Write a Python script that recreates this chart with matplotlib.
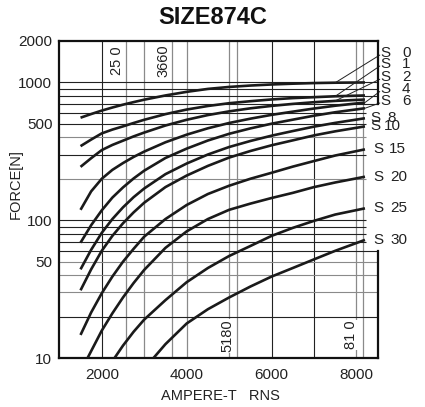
import matplotlib
matplotlib.use('Agg')
import matplotlib.pyplot as plt

plt.rcParams['font.family'] = ['Liberation Sans', 'DejaVu Sans']

# ampere-turns sample points, force [N] for each stroke S (mm)
at_full = [1500, 1750, 2000, 2250, 2500, 2750, 3000, 3500, 4000, 4500, 5000, 5500,
           6000, 6500, 7000, 7500, 8200]
f_s0 = [555, 590, 625, 658, 690, 720, 750, 805, 855, 898, 928, 950, 967, 980, 990, 996, 1000]
f_s1 = [345, 385, 427, 455, 480, 508, 536, 589, 636, 675, 707, 731, 753, 770, 782, 794, 805]
f_s2 = [244, 282, 323, 352, 378, 406, 433, 487, 536, 580, 617, 649, 676, 699, 719, 735, 752]
f_s4 = [119, 162, 200, 232, 260, 288, 315, 368, 418, 465, 508, 546, 582, 614, 647, 678, 715]
f_s6 = [68.7, 92, 118, 146, 173, 201, 229, 283, 331, 379, 424, 464, 502, 537, 574, 608, 650]
f_s8 = [44, 61, 81, 102, 124, 147, 170, 216, 258, 300, 340, 376, 411, 444, 478, 509, 550]
f_s10 = [31, 44, 60, 77, 95, 114, 134, 174, 211, 248, 285, 318, 350, 380, 413, 442, 480]
f_s15 = [14.7, 21.4, 29.5, 39, 50, 62, 76, 102, 129, 155, 178, 200, 221, 245, 269, 295, 327]
at_s20 = [1666, 2000, 2250, 2500, 2750, 3000, 3500, 4000, 4500, 5000, 5500, 6000,
          6500, 7000, 7500, 8200]
f_s20 = [10, 15.8, 21.1, 27.5, 35, 43.6, 63, 83, 102, 119, 132, 145, 158, 174, 188, 207]
at_s25 = [2301, 2500, 2750, 3000, 3500, 4000, 4500, 5000, 5500, 6000, 6500, 7000, 7500, 8200]
f_s25 = [10, 12.3, 15.5, 19, 26.3, 35.5, 45, 55, 65, 77, 88, 99, 110, 122]
at_s30 = [3219, 3500, 4000, 4500, 5000, 5500, 6000, 6500, 7000, 7500, 8200]
f_s30 = [10, 12.6, 17.8, 22.6, 27.5, 33, 39, 45, 52, 60, 72]

strokes = ['0', '1', '2', '4', '6', '8', '10', '15', '20', '25', '30']
curves_x = [at_full] * 8 + [at_s20, at_s25, at_s30]
curves_y = [f_s0, f_s1, f_s2, f_s4, f_s6, f_s8, f_s10, f_s15, f_s20, f_s25, f_s30]

# marked coil values on the grid
grid_x_dark = [2000, 6000, 7000]
grid_x_grey = [2580, 3000, 3660, 4000, 5000, 5180, 8000, 8160]
grid_y_dark = [20, 60, 70, 80, 90, 100, 300, 500, 600, 700, 800, 900, 1000]
grid_y_grey = [30, 40, 50, 200, 400]
marks = ['25 0', '3660', '5180', '81 0']

xmin, xmax = 1000, 8500
ymin, ymax = 10, 2000

fig = plt.figure(figsize=(4.25, 4.07), dpi=100)
ax = fig.add_axes([59.3 / 425, 49 / 407, 318.4 / 425, 317 / 407])
ax.set_yscale('log')
ax.set_xlim(xmin, xmax)
ax.set_ylim(ymin, ymax)

# gridlines
for gx in grid_x_dark:
    ax.axvline(gx, color='#222222', lw=0.8, zorder=1)
for gx in grid_x_grey:
    ax.axvline(gx, color='#8a8a8a', lw=0.9, zorder=1)
for gy in grid_y_dark + grid_y_grey:
    col = '#222222' if gy in grid_y_dark else '#8a8a8a'
    # lines in the open label zone stop short of the right edge
    x_end = xmax if (gy >= 700 or gy <= 60) else 8230
    ax.hlines(gy, xmin, x_end, color=col, lw=0.8, zorder=1)

for xs, ys in zip(curves_x, curves_y):
    ax.plot(xs, ys, color='#1a1a1a', lw=1.9, solid_capstyle='butt',
            solid_joinstyle='round', zorder=3)

# frame: right edge is open between 60 and 700 N
ax.spines['right'].set_visible(False)
for s in ['left', 'bottom', 'top']:
    ax.spines[s].set_linewidth(1.6)
    ax.spines[s].set_color('#111111')
ax.plot([xmax, xmax], [700, ymax], color='#111111', lw=1.6, clip_on=False, zorder=4)
ax.plot([xmax, xmax], [ymin, 60], color='#111111', lw=1.6, clip_on=False, zorder=4)

ax.set_xticks([2000, 4000, 6000, 8000])
ax.set_xticklabels(['2000', '4000', '6000', '8000'])
ax.set_yticks([10, 50, 100, 500, 1000, 2000])
ax.set_yticklabels(['10', '50', '100', '500', '1000', '2000'])
ax.minorticks_off()
ax.tick_params(length=0, labelsize=11, labelcolor='#222222')
ax.tick_params(axis='x', pad=7)
ax.tick_params(axis='y', pad=5)

xt = ax.get_xaxis_transform()
mark_x = [2354, 3453, 4968, 7881]
mark_y = [0.937, 0.937, 0.069, 0.072]
for m, mx, my in zip(marks, mark_x, mark_y):
    ax.text(mx, my, m, rotation=90, ha='center', va='center', fontsize=10.5,
            color='#222222', transform=xt, zorder=5,
            bbox=dict(boxstyle='square,pad=0.05', fc='white', ec='none'))

# stroke labels: S0-S6 stacked outside the frame with leader lines
stack_y = [0.9637, 0.929, 0.8874, 0.8486, 0.8123]
leader_idx = [15, 15, 15, 16, 16]
for i in range(5):
    ax.text(8566, stack_y[i], 'S', ha='left', va='center', fontsize=11,
            color='#222222', transform=xt, clip_on=False)
    ax.text(9270, stack_y[i], strokes[i], ha='right', va='center', fontsize=11,
            color='#222222', transform=xt, clip_on=False)
    ax.annotate('', xy=(curves_x[i][leader_idx[i]], curves_y[i][leader_idx[i]]),
                xytext=(8549, stack_y[i] - 0.008), textcoords=xt,
                arrowprops=dict(arrowstyle='-', lw=0.7, color='#222222',
                                shrinkA=0, shrinkB=0),
                annotation_clip=False)

label_sx = [8330, 8330, 8390, 8390, 8390, 8390]
label_nx = [8920, 9050, 9170, 9200, 9200, 9200]
for j, i in enumerate(range(5, 11)):
    yv = curves_y[i][-1]
    ax.text(label_sx[j], yv, 'S', ha='left', va='center', fontsize=11,
            color='#222222', clip_on=False)
    ax.text(label_nx[j], yv, strokes[i], ha='right', va='center', fontsize=11,
            color='#222222', clip_on=False)

fig.text(0.5, 1 - 18 / 407, 'SIZE874C', ha='center', va='center',
         fontsize=17, fontweight='bold', color='#111111')
fig.text(16 / 425, 1 - 184 / 407, 'FORCE[N]', rotation=90, ha='center',
         va='center', fontsize=10.5, color='#222222')
fig.text(220 / 425, 1 - 396 / 407, 'AMPERE-T   RNS', ha='center', va='center',
         fontsize=10.5, color='#222222')

fig.savefig('out.png', dpi=100)
